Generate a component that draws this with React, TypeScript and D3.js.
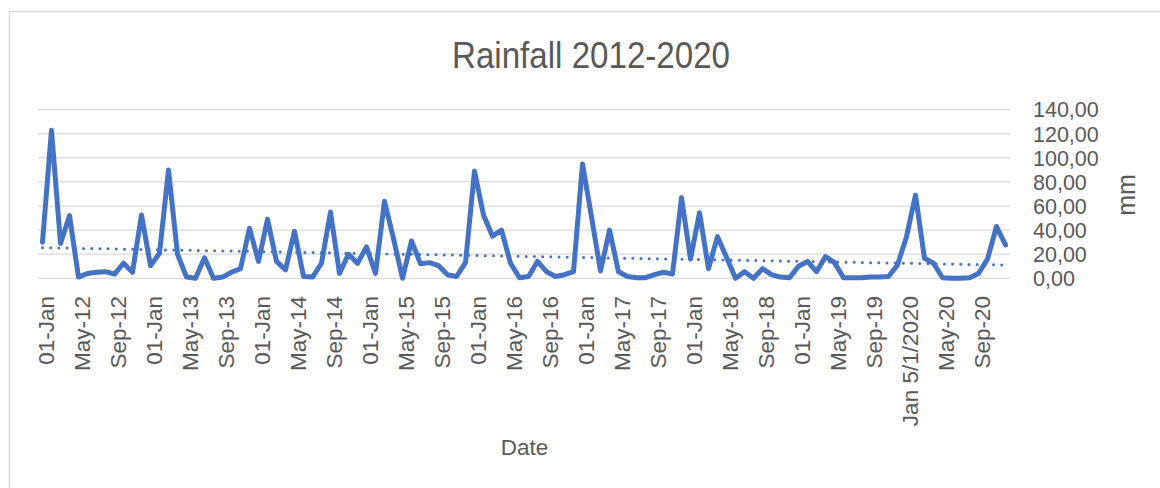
import * as d3 from 'd3';
import React from "react";

// monthly rainfall (mm), Jan 2012 .. Dec 2020
const rainfall = [
    30, 123, 29, 52, 1, 4, 5, 5.5, 3.5, 12.5, 5, 52.6,
    10.5, 20.7, 90, 20, 1, 0, 17, 0, 1, 5, 8, 41.5,
    14, 49, 14, 7, 39, 1.5, 1, 12.5, 55, 4, 20, 12.5,
    26, 4, 64, 33, 0, 31, 12, 13, 10.5, 3, 1.5, 13,
    89, 52.6, 35, 40, 12.5, 0.5, 1.5, 14, 5.5, 1.5, 3, 5.5,
    95, 51, 6, 40, 5.5, 1.5, 0.5, 0.5, 3, 5, 3.5, 67,
    16, 54.5, 8, 34.6, 17.4, 0, 5.5, 0, 8, 3, 1, 0.5,
    10, 14, 5.5, 18, 13, 0.5, 0.5, 0.5, 1, 1, 1.5, 11,
    34.6, 69, 16.6, 12.5, 0.5, 0, 0, 0.5, 4, 16, 43, 27.7,
];

// one label every 4 months
const tickLabels = [
    "01-Jan", "May-12", "Sep-12", "01-Jan", "May-13", "Sep-13", "01-Jan", "May-14", "Sep-14",
    "01-Jan", "May-15", "Sep-15", "01-Jan", "May-16", "Sep-16", "01-Jan", "May-17", "Sep-17",
    "01-Jan", "May-18", "Sep-18", "01-Jan", "May-19", "Sep-19", "Jan 5/1/2020", "May-20", "Sep-20",
];
const yTicks = [0, 20, 40, 60, 80, 100, 120, 140];

const WIDTH = 1160;
const HEIGHT = 488;
const LINE_COLOR = "#4472C4";
const TEXT_COLOR = "#595959";
const FONT = "'Liberation Sans', Arial, sans-serif";

const App: React.FC = () => {
    const idx = d3.range(rainfall.length);
    const x = d3.scalePoint<number>().domain(idx).range([38, 1010]).padding(0.5);
    const y = d3.scaleLinear().domain([0, 140]).range([278.3, 109.7]);

    const line = d3.line<number>()
        .x((d, i) => x(i)!)
        .y(d => y(d));

    // linear trend (least squares)
    const mx = d3.mean(idx)!;
    const my = d3.mean(rainfall)!;
    const slope = d3.sum(idx, i => (i - mx) * (rainfall[i] - my)) / d3.sum(idx, i => (i - mx) ** 2);
    const icpt = my - slope * mx;
    const first = idx[0], last = idx[idx.length - 1];

    const fmt = (v: number) => v.toFixed(2).replace(".", ",");

    return (
        <svg width={WIDTH} height={HEIGHT} style={{position: "absolute", left: 0, top: 0}}
             fontFamily={FONT}>
            <rect x={0} y={0} width={WIDTH} height={HEIGHT} fill="#fff"/>
            <rect x={9.5} y={11.5} width={WIDTH} height={HEIGHT} fill="none" stroke="#d9d9d9" strokeWidth={1.5}/>

            <text x={591} y={68} textAnchor="middle" fontSize={36} fill={TEXT_COLOR}
                  textLength={278} lengthAdjust="spacingAndGlyphs">Rainfall 2012-2020</text>

            <g>
                {yTicks.map(t => (
                    <line key={t} x1={38} x2={1010} y1={y(t)} y2={y(t)} stroke="#d9d9d9" strokeWidth={1.3}/>
                ))}
            </g>
            <g>
                {yTicks.map(t => (
                    <text key={t} x={1033} y={y(t)} dy="0.36em" fontSize={21.5} fill={TEXT_COLOR}>{fmt(t)}</text>
                ))}
            </g>
            <text transform="translate(1135,195) rotate(-90)" textAnchor="middle" fontSize={25}
                  fill={TEXT_COLOR}>mm</text>

            <g>
                {tickLabels.map((lab, k) => {
                    const cx = x(k * 4)! + 3;
                    return (
                        <text key={k} transform={`translate(${cx},296) rotate(-90)`} textAnchor="end"
                              dy="0.36em" fontSize={22.5} fill={TEXT_COLOR}>{lab}</text>
                    );
                })}
            </g>
            <text x={524.5} y={455} textAnchor="middle" fontSize={22.5} fill={TEXT_COLOR}>Date</text>

            <path d={line(rainfall) || ""} fill="none" stroke={LINE_COLOR} strokeWidth={5}
                  strokeLinejoin="round" strokeLinecap="round"/>
            <line x1={x(first)} x2={x(last)} y1={y(icpt + slope * first)} y2={y(icpt + slope * last)}
                  stroke={LINE_COLOR} strokeWidth={3} strokeDasharray="0 8.2" strokeLinecap="round"/>
        </svg>
    );
};

export default App;
